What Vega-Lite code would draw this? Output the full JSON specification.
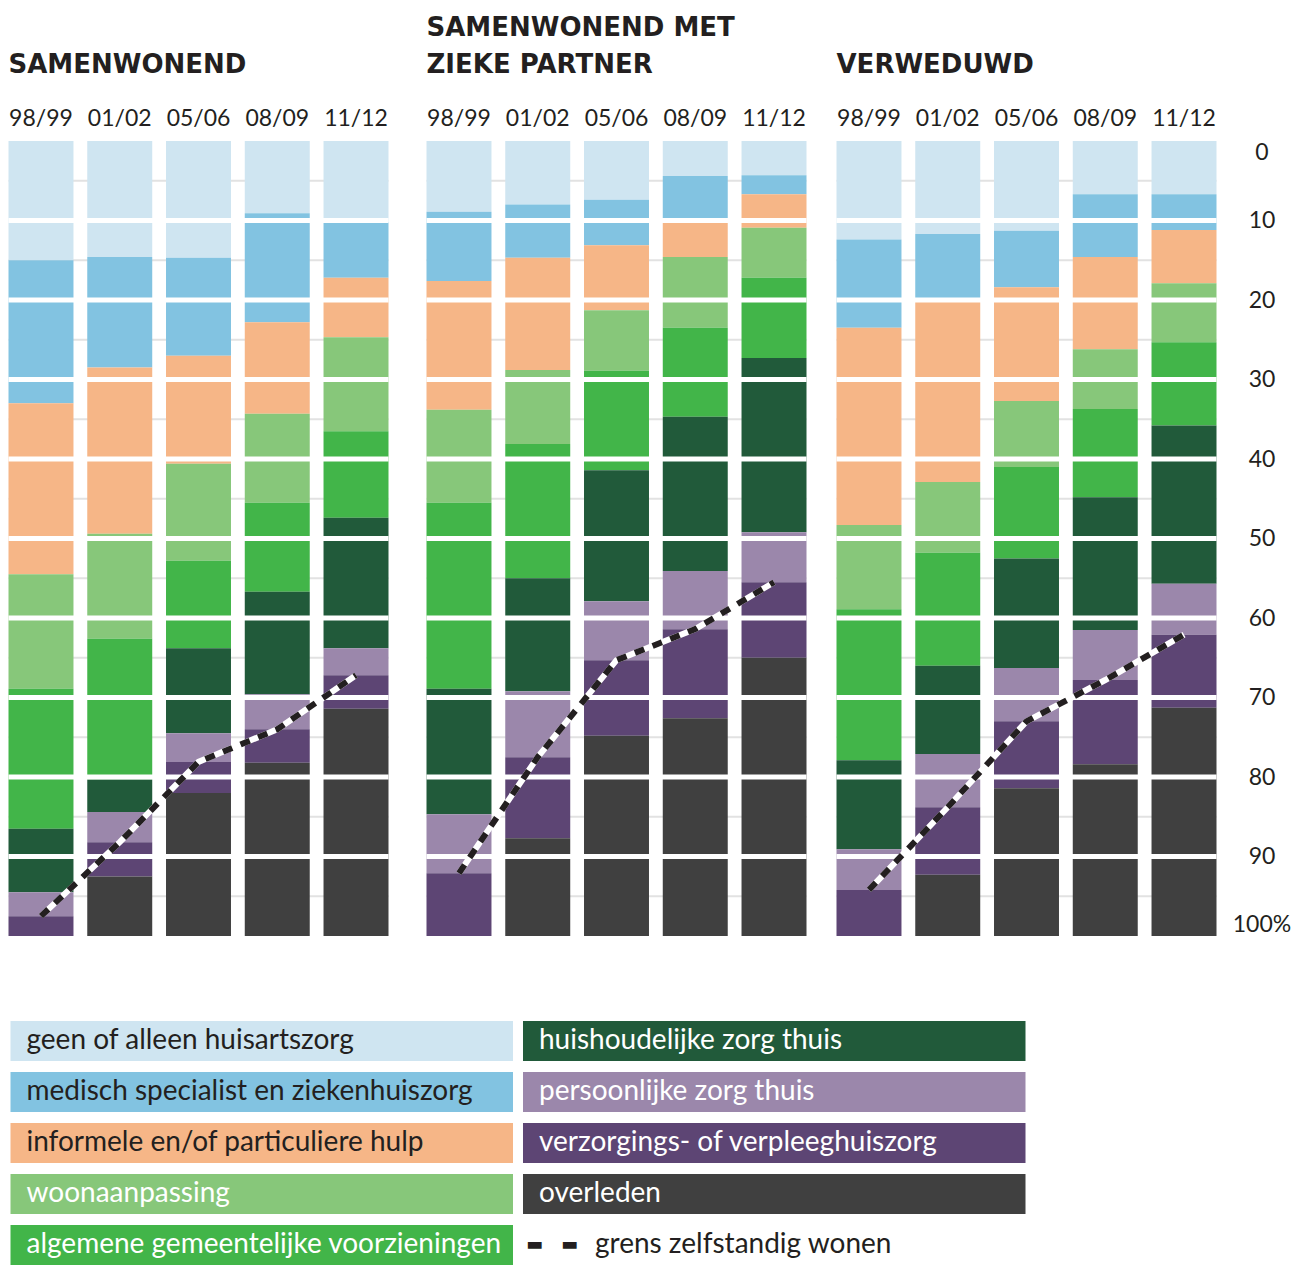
{
  "$schema": "https://vega.github.io/schema/vega-lite/v6.json",
  "background": "white",
  "padding": {"left": 5.5, "top": 15, "right": 0, "bottom": 0},
  "config": {
    "view": {"stroke": null},
    "axis": {"labelFont": "Lato", "labelFontSize": 23, "labelColor": "#231f20", "domain": false, "ticks": false, "grid": false},
    "title": {"font": "DejaVu Sans", "fontSize": 26, "fontWeight": "bold", "color": "#231f20", "anchor": "start", "frame": "group", "offset": 29, "lineHeight": 37}
  },
  "datasets": {
    "grid": [{"v": 5}, {"v": 15}, {"v": 25}, {"v": 35}, {"v": 45}, {"v": 55}, {"v": 65}, {"v": 75}, {"v": 85}, {"v": 95}],
    "gaps": [{"v": 10}, {"v": 20}, {"v": 30}, {"v": 40}, {"v": 50}, {"v": 60}, {"v": 70}, {"v": 80}, {"v": 90}],
    "grens": [
      {"g": 1, "p": "98/99", "v": 97.5}, {"g": 1, "p": "01/02", "v": 88.2}, {"g": 1, "p": "05/06", "v": 78.1}, {"g": 1, "p": "08/09", "v": 74.0}, {"g": 1, "p": "11/12", "v": 67.2},
      {"g": 2, "p": "98/99", "v": 92.1}, {"g": 2, "p": "01/02", "v": 77.5}, {"g": 2, "p": "05/06", "v": 65.3}, {"g": 2, "p": "08/09", "v": 61.4}, {"g": 2, "p": "11/12", "v": 55.5},
      {"g": 3, "p": "98/99", "v": 94.2}, {"g": 3, "p": "01/02", "v": 83.8}, {"g": 3, "p": "05/06", "v": 73.0}, {"g": 3, "p": "08/09", "v": 67.8}, {"g": 3, "p": "11/12", "v": 62.1}
    ],
    "legend": [
      {"k": 1, "col": 0, "row": 0, "label": "geen of alleen huisartszorg"},
      {"k": 2, "col": 0, "row": 1, "label": "medisch specialist en ziekenhuiszorg"},
      {"k": 3, "col": 0, "row": 2, "label": "informele en/of particuliere hulp"},
      {"k": 4, "col": 0, "row": 3, "label": "woonaanpassing"},
      {"k": 5, "col": 0, "row": 4, "label": "algemene gemeentelijke voorzieningen"},
      {"k": 6, "col": 1, "row": 0, "label": "huishoudelijke zorg thuis"},
      {"k": 7, "col": 1, "row": 1, "label": "persoonlijke zorg thuis"},
      {"k": 8, "col": 1, "row": 2, "label": "verzorgings- of verpleeghuiszorg"},
      {"k": 9, "col": 1, "row": 3, "label": "overleden"},
      {"k": 10, "col": 1, "row": 4, "label": "grens zelfstandig wonen"}
    ],
    "bars": [
      {"g": 1, "p": "98/99", "k": 1, "v": 15.0}, {"g": 1, "p": "98/99", "k": 2, "v": 18.0}, {"g": 1, "p": "98/99", "k": 3, "v": 21.5}, {"g": 1, "p": "98/99", "k": 4, "v": 14.4}, {"g": 1, "p": "98/99", "k": 5, "v": 17.6}, {"g": 1, "p": "98/99", "k": 6, "v": 8.0}, {"g": 1, "p": "98/99", "k": 7, "v": 3.0}, {"g": 1, "p": "98/99", "k": 8, "v": 2.5}, {"g": 1, "p": "98/99", "k": 9, "v": 0},
      {"g": 1, "p": "01/02", "k": 1, "v": 14.6}, {"g": 1, "p": "01/02", "k": 2, "v": 13.9}, {"g": 1, "p": "01/02", "k": 3, "v": 20.9}, {"g": 1, "p": "01/02", "k": 4, "v": 13.2}, {"g": 1, "p": "01/02", "k": 5, "v": 17.7}, {"g": 1, "p": "01/02", "k": 6, "v": 4.1}, {"g": 1, "p": "01/02", "k": 7, "v": 3.8}, {"g": 1, "p": "01/02", "k": 8, "v": 4.3}, {"g": 1, "p": "01/02", "k": 9, "v": 7.5},
      {"g": 1, "p": "05/06", "k": 1, "v": 14.7}, {"g": 1, "p": "05/06", "k": 2, "v": 12.3}, {"g": 1, "p": "05/06", "k": 3, "v": 13.6}, {"g": 1, "p": "05/06", "k": 4, "v": 12.2}, {"g": 1, "p": "05/06", "k": 5, "v": 11.0}, {"g": 1, "p": "05/06", "k": 6, "v": 10.7}, {"g": 1, "p": "05/06", "k": 7, "v": 3.6}, {"g": 1, "p": "05/06", "k": 8, "v": 3.9}, {"g": 1, "p": "05/06", "k": 9, "v": 18.0},
      {"g": 1, "p": "08/09", "k": 1, "v": 9.1}, {"g": 1, "p": "08/09", "k": 2, "v": 13.7}, {"g": 1, "p": "08/09", "k": 3, "v": 11.5}, {"g": 1, "p": "08/09", "k": 4, "v": 11.2}, {"g": 1, "p": "08/09", "k": 5, "v": 11.2}, {"g": 1, "p": "08/09", "k": 6, "v": 12.9}, {"g": 1, "p": "08/09", "k": 7, "v": 4.4}, {"g": 1, "p": "08/09", "k": 8, "v": 4.2}, {"g": 1, "p": "08/09", "k": 9, "v": 21.8},
      {"g": 1, "p": "11/12", "k": 1, "v": 10.2}, {"g": 1, "p": "11/12", "k": 2, "v": 7.0}, {"g": 1, "p": "11/12", "k": 3, "v": 7.5}, {"g": 1, "p": "11/12", "k": 4, "v": 11.8}, {"g": 1, "p": "11/12", "k": 5, "v": 10.9}, {"g": 1, "p": "11/12", "k": 6, "v": 16.4}, {"g": 1, "p": "11/12", "k": 7, "v": 3.4}, {"g": 1, "p": "11/12", "k": 8, "v": 4.2}, {"g": 1, "p": "11/12", "k": 9, "v": 28.6},
      {"g": 2, "p": "98/99", "k": 1, "v": 8.9}, {"g": 2, "p": "98/99", "k": 2, "v": 8.7}, {"g": 2, "p": "98/99", "k": 3, "v": 16.2}, {"g": 2, "p": "98/99", "k": 4, "v": 11.7}, {"g": 2, "p": "98/99", "k": 5, "v": 23.4}, {"g": 2, "p": "98/99", "k": 6, "v": 15.8}, {"g": 2, "p": "98/99", "k": 7, "v": 7.4}, {"g": 2, "p": "98/99", "k": 8, "v": 7.9}, {"g": 2, "p": "98/99", "k": 9, "v": 0},
      {"g": 2, "p": "01/02", "k": 1, "v": 8.0}, {"g": 2, "p": "01/02", "k": 2, "v": 6.7}, {"g": 2, "p": "01/02", "k": 3, "v": 14.1}, {"g": 2, "p": "01/02", "k": 4, "v": 9.3}, {"g": 2, "p": "01/02", "k": 5, "v": 16.9}, {"g": 2, "p": "01/02", "k": 6, "v": 14.2}, {"g": 2, "p": "01/02", "k": 7, "v": 8.3}, {"g": 2, "p": "01/02", "k": 8, "v": 10.2}, {"g": 2, "p": "01/02", "k": 9, "v": 12.3},
      {"g": 2, "p": "05/06", "k": 1, "v": 7.4}, {"g": 2, "p": "05/06", "k": 2, "v": 5.7}, {"g": 2, "p": "05/06", "k": 3, "v": 8.2}, {"g": 2, "p": "05/06", "k": 4, "v": 7.6}, {"g": 2, "p": "05/06", "k": 5, "v": 12.5}, {"g": 2, "p": "05/06", "k": 6, "v": 16.5}, {"g": 2, "p": "05/06", "k": 7, "v": 7.4}, {"g": 2, "p": "05/06", "k": 8, "v": 9.5}, {"g": 2, "p": "05/06", "k": 9, "v": 25.2},
      {"g": 2, "p": "08/09", "k": 1, "v": 4.4}, {"g": 2, "p": "08/09", "k": 2, "v": 5.6}, {"g": 2, "p": "08/09", "k": 3, "v": 4.6}, {"g": 2, "p": "08/09", "k": 4, "v": 8.9}, {"g": 2, "p": "08/09", "k": 5, "v": 11.2}, {"g": 2, "p": "08/09", "k": 6, "v": 19.4}, {"g": 2, "p": "08/09", "k": 7, "v": 7.3}, {"g": 2, "p": "08/09", "k": 8, "v": 11.2}, {"g": 2, "p": "08/09", "k": 9, "v": 27.4},
      {"g": 2, "p": "11/12", "k": 1, "v": 4.3}, {"g": 2, "p": "11/12", "k": 2, "v": 2.4}, {"g": 2, "p": "11/12", "k": 3, "v": 4.2}, {"g": 2, "p": "11/12", "k": 4, "v": 6.3}, {"g": 2, "p": "11/12", "k": 5, "v": 10.1}, {"g": 2, "p": "11/12", "k": 6, "v": 21.9}, {"g": 2, "p": "11/12", "k": 7, "v": 6.3}, {"g": 2, "p": "11/12", "k": 8, "v": 9.5}, {"g": 2, "p": "11/12", "k": 9, "v": 35.0},
      {"g": 3, "p": "98/99", "k": 1, "v": 12.4}, {"g": 3, "p": "98/99", "k": 2, "v": 11.1}, {"g": 3, "p": "98/99", "k": 3, "v": 24.8}, {"g": 3, "p": "98/99", "k": 4, "v": 10.6}, {"g": 3, "p": "98/99", "k": 5, "v": 19.0}, {"g": 3, "p": "98/99", "k": 6, "v": 11.2}, {"g": 3, "p": "98/99", "k": 7, "v": 5.1}, {"g": 3, "p": "98/99", "k": 8, "v": 5.8}, {"g": 3, "p": "98/99", "k": 9, "v": 0},
      {"g": 3, "p": "01/02", "k": 1, "v": 11.7}, {"g": 3, "p": "01/02", "k": 2, "v": 8.5}, {"g": 3, "p": "01/02", "k": 3, "v": 22.7}, {"g": 3, "p": "01/02", "k": 4, "v": 8.9}, {"g": 3, "p": "01/02", "k": 5, "v": 14.2}, {"g": 3, "p": "01/02", "k": 6, "v": 11.1}, {"g": 3, "p": "01/02", "k": 7, "v": 6.7}, {"g": 3, "p": "01/02", "k": 8, "v": 8.5}, {"g": 3, "p": "01/02", "k": 9, "v": 7.7},
      {"g": 3, "p": "05/06", "k": 1, "v": 11.3}, {"g": 3, "p": "05/06", "k": 2, "v": 7.1}, {"g": 3, "p": "05/06", "k": 3, "v": 14.3}, {"g": 3, "p": "05/06", "k": 4, "v": 8.3}, {"g": 3, "p": "05/06", "k": 5, "v": 11.5}, {"g": 3, "p": "05/06", "k": 6, "v": 13.8}, {"g": 3, "p": "05/06", "k": 7, "v": 6.7}, {"g": 3, "p": "05/06", "k": 8, "v": 8.4}, {"g": 3, "p": "05/06", "k": 9, "v": 18.6},
      {"g": 3, "p": "08/09", "k": 1, "v": 6.7}, {"g": 3, "p": "08/09", "k": 2, "v": 7.9}, {"g": 3, "p": "08/09", "k": 3, "v": 11.6}, {"g": 3, "p": "08/09", "k": 4, "v": 7.5}, {"g": 3, "p": "08/09", "k": 5, "v": 11.1}, {"g": 3, "p": "08/09", "k": 6, "v": 16.7}, {"g": 3, "p": "08/09", "k": 7, "v": 6.3}, {"g": 3, "p": "08/09", "k": 8, "v": 10.6}, {"g": 3, "p": "08/09", "k": 9, "v": 21.6},
      {"g": 3, "p": "11/12", "k": 1, "v": 6.7}, {"g": 3, "p": "11/12", "k": 2, "v": 4.5}, {"g": 3, "p": "11/12", "k": 3, "v": 6.7}, {"g": 3, "p": "11/12", "k": 4, "v": 7.4}, {"g": 3, "p": "11/12", "k": 5, "v": 10.5}, {"g": 3, "p": "11/12", "k": 6, "v": 19.9}, {"g": 3, "p": "11/12", "k": 7, "v": 6.4}, {"g": 3, "p": "11/12", "k": 8, "v": 9.2}, {"g": 3, "p": "11/12", "k": 9, "v": 28.7}
    ]
  },
  "vconcat": [
    {
      "hconcat": [
        {
          "width": 380, "height": 795,
          "title": {"text": "SAMENWONEND"},
          "layer": [
            {"data": {"name": "grid"}, "mark": {"type": "rule", "color": "#e2e2e2", "strokeWidth": 2}, "encoding": {"y": {"field": "v", "type": "quantitative", "scale": {"domain": [0, 100], "reverse": true, "nice": false}, "axis": null}}},
            {"data": {"name": "bars"}, "transform": [{"filter": "datum.g === 1"}], "mark": {"type": "bar"},
             "encoding": {
               "x": {"field": "p", "type": "nominal", "scale": {"domain": ["98/99", "01/02", "05/06", "08/09", "11/12"], "paddingInner": 0.175, "paddingOuter": 0}, "axis": {"orient": "top", "labelAngle": 0, "labelPadding": 11, "title": null}},
               "y": {"field": "v", "type": "quantitative", "stack": "zero", "scale": {"domain": [0, 100], "reverse": true, "nice": false}, "axis": null},
               "color": {"field": "k", "type": "nominal", "scale": {"domain": [1, 2, 3, 4, 5, 6, 7, 8, 9], "range": ["#cfe5f1", "#82c3e1", "#f6b687", "#87c77a", "#42b549", "#215a3a", "#9b87ab", "#5d4574", "#404040"]}, "legend": null},
               "order": {"field": "k", "type": "quantitative", "sort": "ascending"}
             }},
            {"data": {"name": "gaps"}, "mark": {"type": "rule", "color": "#ffffff", "strokeWidth": 5}, "encoding": {"y": {"field": "v", "type": "quantitative", "scale": {"domain": [0, 100], "reverse": true, "nice": false}, "axis": null}}},
            {"data": {"name": "grens"}, "transform": [{"filter": "datum.g === 1"}], "mark": {"type": "line", "color": "#ffffff", "strokeWidth": 6},
             "encoding": {"x": {"field": "p", "type": "nominal", "scale": {"domain": ["98/99", "01/02", "05/06", "08/09", "11/12"], "paddingInner": 0.175, "paddingOuter": 0}, "axis": {"orient": "top", "labelAngle": 0, "labelPadding": 11, "title": null}}, "y": {"field": "v", "type": "quantitative", "scale": {"domain": [0, 100], "reverse": true, "nice": false}, "axis": null}, "order": {"value": null}}},
            {"data": {"name": "grens"}, "transform": [{"filter": "datum.g === 1"}], "mark": {"type": "line", "color": "#231f20", "strokeWidth": 6, "strokeDash": [10, 9]},
             "encoding": {"x": {"field": "p", "type": "nominal", "scale": {"domain": ["98/99", "01/02", "05/06", "08/09", "11/12"], "paddingInner": 0.175, "paddingOuter": 0}, "axis": {"orient": "top", "labelAngle": 0, "labelPadding": 11, "title": null}}, "y": {"field": "v", "type": "quantitative", "scale": {"domain": [0, 100], "reverse": true, "nice": false}, "axis": null}, "order": {"value": null}}}
          ]
        },
        {
          "hconcat": [
            {
              "width": 380, "height": 795,
              "title": {"text": ["SAMENWONEND MET", "ZIEKE PARTNER"]},
              "layer": [
                {"data": {"name": "grid"}, "mark": {"type": "rule", "color": "#e2e2e2", "strokeWidth": 2}, "encoding": {"y": {"field": "v", "type": "quantitative", "scale": {"domain": [0, 100], "reverse": true, "nice": false}, "axis": null}}},
                {"data": {"name": "bars"}, "transform": [{"filter": "datum.g === 2"}], "mark": {"type": "bar"},
                 "encoding": {
                   "x": {"field": "p", "type": "nominal", "scale": {"domain": ["98/99", "01/02", "05/06", "08/09", "11/12"], "paddingInner": 0.175, "paddingOuter": 0}, "axis": {"orient": "top", "labelAngle": 0, "labelPadding": 11, "title": null}},
                   "y": {"field": "v", "type": "quantitative", "stack": "zero", "scale": {"domain": [0, 100], "reverse": true, "nice": false}, "axis": null},
                   "color": {"field": "k", "type": "nominal", "scale": {"domain": [1, 2, 3, 4, 5, 6, 7, 8, 9], "range": ["#cfe5f1", "#82c3e1", "#f6b687", "#87c77a", "#42b549", "#215a3a", "#9b87ab", "#5d4574", "#404040"]}, "legend": null},
                   "order": {"field": "k", "type": "quantitative", "sort": "ascending"}
                 }},
                {"data": {"name": "gaps"}, "mark": {"type": "rule", "color": "#ffffff", "strokeWidth": 5}, "encoding": {"y": {"field": "v", "type": "quantitative", "scale": {"domain": [0, 100], "reverse": true, "nice": false}, "axis": null}}},
                {"data": {"name": "grens"}, "transform": [{"filter": "datum.g === 2"}], "mark": {"type": "line", "color": "#ffffff", "strokeWidth": 6},
                 "encoding": {"x": {"field": "p", "type": "nominal", "scale": {"domain": ["98/99", "01/02", "05/06", "08/09", "11/12"], "paddingInner": 0.175, "paddingOuter": 0}, "axis": {"orient": "top", "labelAngle": 0, "labelPadding": 11, "title": null}}, "y": {"field": "v", "type": "quantitative", "scale": {"domain": [0, 100], "reverse": true, "nice": false}, "axis": null}, "order": {"value": null}}},
                {"data": {"name": "grens"}, "transform": [{"filter": "datum.g === 2"}], "mark": {"type": "line", "color": "#231f20", "strokeWidth": 6, "strokeDash": [10, 9]},
                 "encoding": {"x": {"field": "p", "type": "nominal", "scale": {"domain": ["98/99", "01/02", "05/06", "08/09", "11/12"], "paddingInner": 0.175, "paddingOuter": 0}, "axis": {"orient": "top", "labelAngle": 0, "labelPadding": 11, "title": null}}, "y": {"field": "v", "type": "quantitative", "scale": {"domain": [0, 100], "reverse": true, "nice": false}, "axis": null}, "order": {"value": null}}}
              ]
            },
            {
              "width": 380, "height": 795,
              "title": {"text": "VERWEDUWD"},
              "layer": [
                {"data": {"name": "grid"}, "mark": {"type": "rule", "color": "#e2e2e2", "strokeWidth": 2}, "encoding": {"y": {"field": "v", "type": "quantitative", "scale": {"domain": [0, 100], "reverse": true, "nice": false}, "axis": {"orient": "right", "values": [0, 10, 20, 30, 40, 50, 60, 70, 80, 90, 100], "labelAlign": "center", "labelPadding": 45, "labelFlush": true, "title": null, "labelExpr": "datum.value === 100 ? '100%' : datum.label"}}}},
                {"data": {"name": "bars"}, "transform": [{"filter": "datum.g === 3"}], "mark": {"type": "bar"},
                 "encoding": {
                   "x": {"field": "p", "type": "nominal", "scale": {"domain": ["98/99", "01/02", "05/06", "08/09", "11/12"], "paddingInner": 0.175, "paddingOuter": 0}, "axis": {"orient": "top", "labelAngle": 0, "labelPadding": 11, "title": null}},
                   "y": {"field": "v", "type": "quantitative", "stack": "zero", "scale": {"domain": [0, 100], "reverse": true, "nice": false},
                         "axis": {"orient": "right", "values": [0, 10, 20, 30, 40, 50, 60, 70, 80, 90, 100], "labelAlign": "center", "labelPadding": 45, "labelFlush": true, "title": null, "labelExpr": "datum.value === 100 ? '100%' : datum.label"}},
                   "color": {"field": "k", "type": "nominal", "scale": {"domain": [1, 2, 3, 4, 5, 6, 7, 8, 9], "range": ["#cfe5f1", "#82c3e1", "#f6b687", "#87c77a", "#42b549", "#215a3a", "#9b87ab", "#5d4574", "#404040"]}, "legend": null},
                   "order": {"field": "k", "type": "quantitative", "sort": "ascending"}
                 }},
                {"data": {"name": "gaps"}, "mark": {"type": "rule", "color": "#ffffff", "strokeWidth": 5}, "encoding": {"y": {"field": "v", "type": "quantitative", "scale": {"domain": [0, 100], "reverse": true, "nice": false}, "axis": {"orient": "right", "values": [0, 10, 20, 30, 40, 50, 60, 70, 80, 90, 100], "labelAlign": "center", "labelPadding": 45, "labelFlush": true, "title": null, "labelExpr": "datum.value === 100 ? '100%' : datum.label"}}}},
                {"data": {"name": "grens"}, "transform": [{"filter": "datum.g === 3"}], "mark": {"type": "line", "color": "#ffffff", "strokeWidth": 6},
                 "encoding": {"x": {"field": "p", "type": "nominal", "scale": {"domain": ["98/99", "01/02", "05/06", "08/09", "11/12"], "paddingInner": 0.175, "paddingOuter": 0}, "axis": {"orient": "top", "labelAngle": 0, "labelPadding": 11, "title": null}}, "y": {"field": "v", "type": "quantitative", "scale": {"domain": [0, 100], "reverse": true, "nice": false}, "axis": {"orient": "right", "values": [0, 10, 20, 30, 40, 50, 60, 70, 80, 90, 100], "labelAlign": "center", "labelPadding": 45, "labelFlush": true, "title": null, "labelExpr": "datum.value === 100 ? '100%' : datum.label"}}, "order": {"value": null}}},
                {"data": {"name": "grens"}, "transform": [{"filter": "datum.g === 3"}], "mark": {"type": "line", "color": "#231f20", "strokeWidth": 6, "strokeDash": [10, 9]},
                 "encoding": {"x": {"field": "p", "type": "nominal", "scale": {"domain": ["98/99", "01/02", "05/06", "08/09", "11/12"], "paddingInner": 0.175, "paddingOuter": 0}, "axis": {"orient": "top", "labelAngle": 0, "labelPadding": 11, "title": null}}, "y": {"field": "v", "type": "quantitative", "scale": {"domain": [0, 100], "reverse": true, "nice": false}, "axis": {"orient": "right", "values": [0, 10, 20, 30, 40, 50, 60, 70, 80, 90, 100], "labelAlign": "center", "labelPadding": 45, "labelFlush": true, "title": null, "labelExpr": "datum.value === 100 ? '100%' : datum.label"}}, "order": {"value": null}}}
              ]
            }
          ],
          "spacing": 30,
          "bounds": "flush"
        }
      ],
      "spacing": 38,
      "bounds": "flush"
    },
    {
      "width": 1019, "height": 244,
      "data": {"name": "legend"},
      "encoding": {
        "x": {"field": "col", "type": "ordinal", "scale": {"paddingInner": 0.0195, "paddingOuter": 0.0039}, "axis": null},
        "y": {"field": "row", "type": "ordinal", "scale": {"paddingInner": 0.2157, "paddingOuter": 0}, "axis": null}
      },
      "layer": [
        {"transform": [{"filter": "datum.k <= 9"}], "mark": {"type": "rect"},
         "encoding": {"color": {"field": "k", "type": "nominal", "scale": {"domain": [1, 2, 3, 4, 5, 6, 7, 8, 9], "range": ["#cfe5f1", "#82c3e1", "#f6b687", "#87c77a", "#42b549", "#215a3a", "#9b87ab", "#5d4574", "#404040"]}, "legend": null}}},
        {"transform": [{"filter": "datum.k <= 9"}], "mark": {"type": "text", "align": "left", "baseline": "middle", "dx": 16, "fontSize": 28, "font": "Lato"},
         "encoding": {"x": {"field": "col", "type": "ordinal", "bandPosition": 0, "axis": null}, "text": {"field": "label"}, "color": {"condition": {"test": "datum.k <= 3", "value": "#231f20"}, "value": "#ffffff"}}},
        {"transform": [{"filter": "datum.k === 10"}], "mark": {"type": "text", "align": "left", "baseline": "middle", "dx": 72, "fontSize": 28, "font": "Lato", "color": "#231f20"},
         "encoding": {"x": {"field": "col", "type": "ordinal", "bandPosition": 0, "axis": null}, "text": {"field": "label"}}},
        {"transform": [{"filter": "datum.k === 10"}], "mark": {"type": "text", "align": "left", "baseline": "middle", "dx": 3, "fontSize": 18, "font": "DejaVu Sans", "color": "#231f20", "text": "▬\u2003▬"},
         "encoding": {"x": {"field": "col", "type": "ordinal", "bandPosition": 0, "axis": null}}}
      ]
    }
  ],
  "spacing": 84
}
